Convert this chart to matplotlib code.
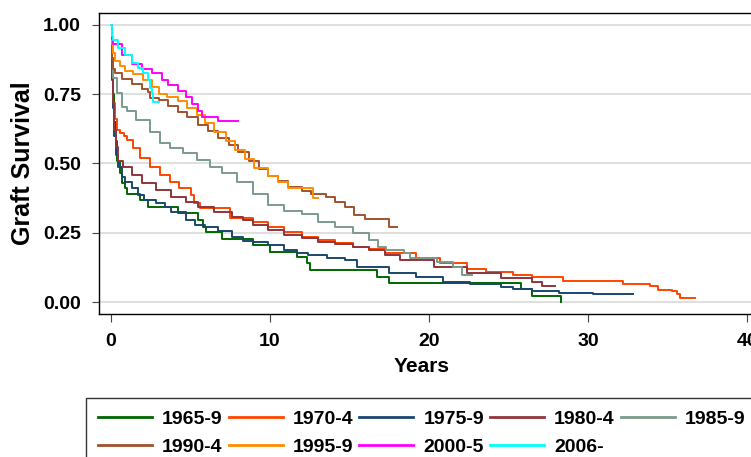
import matplotlib
matplotlib.use('Agg')
import matplotlib.pyplot as plt

plt.rcParams['font.family'] = ['Liberation Sans', 'DejaVu Sans']
plt.rcParams['font.weight'] = 'bold'

# graft survival curves (years, survival)
labels = ['1965-9', '1970-4', '1975-9', '1980-4', '1985-9',
          '1990-4', '1995-9', '2000-5', '2006-']
colors = ['#006600', '#ff4500', '#1a476f', '#90353b', '#7b9a8c',
          '#a0522d', '#ff8c00', '#ff00ff', '#00ffff']

t_1965 = [0, 0.05, 0.1, 0.2, 0.3, 0.4, 0.57, 0.67, 0.88, 1.0, 1.8, 2.3, 4.2, 5.5, 5.8, 6.0, 7.0,
          8.9, 10.0, 11.7, 12.3, 12.5, 16.7, 17.5, 25.8, 26.5, 28.3]
s_1965 = [1.0, 0.85, 0.75, 0.65, 0.58, 0.51, 0.466, 0.43, 0.41, 0.39, 0.368, 0.343, 0.32, 0.296, 0.27, 0.253, 0.227,
          0.206, 0.18, 0.163, 0.14, 0.114, 0.09, 0.069, 0.047, 0.022, 0.0]

t_1970 = [0, 0.05, 0.1, 0.15, 0.25, 0.38, 0.57, 0.8, 1.0, 1.4, 1.8, 2.45, 3.1, 3.7, 4.3, 5.0, 5.2, 5.6, 7.5, 8.9,
          9.9, 10.9, 12.0, 13.0, 14.1, 15.2, 16.2, 17.2, 19.2, 20.7, 22.4, 23.6, 25.3, 26.5, 28.4, 32.2, 33.9, 34.4,
          35.3, 35.6, 35.8, 36.7]
s_1970 = [1.0, 0.85, 0.76, 0.72, 0.66, 0.62, 0.61, 0.6, 0.585, 0.555, 0.52, 0.487, 0.458, 0.433, 0.41, 0.386, 0.357,
          0.34, 0.303, 0.289, 0.271, 0.253, 0.235, 0.224, 0.213, 0.2, 0.19, 0.177, 0.159, 0.141, 0.119, 0.108, 0.097,
          0.09, 0.076, 0.065, 0.058, 0.043, 0.04, 0.029, 0.014, 0.014]

t_1975 = [0, 0.05, 0.1, 0.2, 0.3, 0.44, 0.7, 0.9, 1.3, 1.7, 2.1, 2.8, 3.4, 3.8, 4.7, 5.3, 5.9, 6.7, 7.6, 8.3,
          8.9, 9.9, 10.9, 11.7, 12.4, 13.6, 14.7, 15.5, 17.5, 19.2, 20.9, 22.6, 24.5, 25.3, 26.5, 28.2, 30.3, 32.8]
s_1975 = [1.0, 0.8, 0.7, 0.6, 0.53, 0.487, 0.45, 0.433, 0.41, 0.386, 0.368, 0.357, 0.343, 0.325, 0.296, 0.278, 0.271,
          0.256, 0.235, 0.22, 0.217, 0.206, 0.188, 0.177, 0.17, 0.159, 0.152, 0.128, 0.105, 0.09, 0.072, 0.065, 0.054,
          0.047, 0.04, 0.032, 0.029, 0.029]

t_1980 = [0, 0.05, 0.1, 0.2, 0.3, 0.44, 0.75, 1.3, 1.95, 2.8, 3.8, 4.7, 5.5, 6.5, 7.6, 8.3, 8.9, 9.9, 10.9, 12.0,
          13.0, 14.1, 15.2, 16.2, 17.2, 18.2, 20.3, 22.4, 24.5, 26.5, 27.1, 27.9]
s_1980 = [1.0, 0.82, 0.72, 0.62, 0.56, 0.51, 0.487, 0.458, 0.43, 0.404, 0.379, 0.361, 0.343, 0.325, 0.307, 0.296,
          0.278, 0.26, 0.242, 0.231, 0.217, 0.209, 0.199, 0.188, 0.17, 0.152, 0.126, 0.105, 0.087, 0.072, 0.058, 0.058]

t_1985 = [0, 0.05, 0.13, 0.38, 0.7, 1.0, 1.6, 2.45, 3.1, 3.7, 4.5, 5.4, 6.2, 7.0, 7.9, 8.9, 9.9, 10.9, 12.0, 13.0,
          14.1, 15.2, 16.2, 16.8, 17.3, 18.4, 18.8, 20.5, 21.5, 22.1, 22.7]
s_1985 = [1.0, 0.88, 0.81, 0.755, 0.704, 0.69, 0.657, 0.614, 0.574, 0.556, 0.538, 0.513, 0.487, 0.466, 0.433, 0.39,
          0.352, 0.327, 0.316, 0.289, 0.271, 0.25, 0.224, 0.199, 0.188, 0.177, 0.159, 0.144, 0.126, 0.097, 0.097]

t_1990 = [0, 0.05, 0.1, 0.25, 0.7, 1.3, 1.95, 2.3, 2.45, 3.0, 3.6, 4.2, 4.8, 5.5, 6.1, 6.7, 7.4, 8.0, 8.7, 9.3,
          9.9, 10.5, 11.1, 12.0, 12.6, 13.5, 14.1, 14.7, 15.3, 16.0, 17.5, 18.0]
s_1990 = [1.0, 0.88, 0.84, 0.825, 0.805, 0.785, 0.768, 0.757, 0.735, 0.728, 0.708, 0.685, 0.668, 0.64, 0.618, 0.593,
          0.566, 0.54, 0.508, 0.48, 0.455, 0.436, 0.415, 0.4, 0.39, 0.379, 0.361, 0.343, 0.314, 0.3, 0.271, 0.271]

t_1995 = [0, 0.05, 0.1, 0.25, 0.57, 0.9, 1.4, 2.0, 2.6, 3.0, 3.5, 4.2, 4.8, 5.4, 5.9, 6.5, 7.2, 7.8, 8.4, 9.0,
          9.9, 10.5, 11.1, 12.7, 13.0]
s_1995 = [1.0, 0.93, 0.9, 0.87, 0.85, 0.835, 0.822, 0.8, 0.775, 0.75, 0.74, 0.725, 0.7, 0.675, 0.645, 0.612, 0.58,
          0.55, 0.515, 0.485, 0.455, 0.435, 0.41, 0.375, 0.375]

t_2000 = [0, 0.05, 0.1, 0.7, 1.3, 1.95, 2.6, 3.2, 3.6, 4.2, 4.7, 5.1, 5.5, 5.7, 6.7, 8.0]
s_2000 = [1.0, 0.95, 0.93, 0.89, 0.86, 0.84, 0.825, 0.8, 0.782, 0.762, 0.74, 0.714, 0.69, 0.668, 0.653, 0.653]

t_2006 = [0, 0.05, 0.1, 0.44, 0.88, 1.3, 1.7, 2.0, 2.3, 2.45, 2.6, 2.64, 3.0]
s_2006 = [1.0, 0.96, 0.945, 0.917, 0.892, 0.863, 0.845, 0.827, 0.8, 0.773, 0.755, 0.722, 0.722]

times = [t_1965, t_1970, t_1975, t_1980, t_1985, t_1990, t_1995, t_2000, t_2006]
surv = [s_1965, s_1970, s_1975, s_1980, s_1985, s_1990, s_1995, s_2000, s_2006]

x_ticks = [0, 10, 20, 30, 40]
y_ticks = [0.0, 0.25, 0.5, 0.75, 1.0]

fig = plt.figure(figsize=(7.51, 4.57), dpi=100)
# axes runs off the right edge like the cropped original
ax = fig.add_axes([99 / 751, (457 - 314) / 457, (763 - 99) / 751, (314 - 12.7) / 457])

lines = []
for t, s, lab, c in zip(times, surv, labels, colors):
    ln, = ax.step(t, s, where='post', color=c, lw=1.4, label=lab)
    lines.append(ln)

ax.set_xlim(-0.755, 41)
ax.set_ylim(-0.043, 1.044)
ax.set_xticks(x_ticks)
ax.set_yticks(y_ticks)
ax.set_yticklabels(['%.2f' % v for v in y_ticks])
ax.grid(axis='y', color='#dcdcdc', lw=1.3)
ax.set_axisbelow(True)
ax.tick_params(axis='both', labelsize=14, color='#444444', direction='out')
ax.tick_params(axis='y', length=5, pad=8)
ax.tick_params(axis='x', length=6, pad=8)
for sp in ax.spines.values():
    sp.set_linewidth(1.0)
    sp.set_color('black')

ax.set_xlabel('Years', fontsize=15, fontweight='bold')
ax.xaxis.set_label_coords(422 / 751, 1 - 366 / 457, transform=fig.transFigure)
ax.xaxis.label.set_va('center')
ax.set_ylabel('Graft Survival', fontsize=18, fontweight='bold', labelpad=6)

# legend fills row by row, so hand the entries over column by column
order = [0, 5, 1, 6, 2, 7, 3, 8, 4]
leg = fig.legend([lines[i] for i in order], [labels[i] for i in order],
                 loc='upper left', bbox_to_anchor=(86 / 751, 1 - 398 / 457), ncol=5,
                 fontsize=14, frameon=True, fancybox=False, borderpad=0.62,
                 handlelength=2.78, handletextpad=0.51, columnspacing=0.31,
                 labelspacing=0.55, borderaxespad=0)
leg.get_frame().set_edgecolor('black')
leg.get_frame().set_linewidth(1.0)
for line in leg.get_lines():
    line.set_linewidth(2.0)

fig.savefig('out.png', dpi=100)
